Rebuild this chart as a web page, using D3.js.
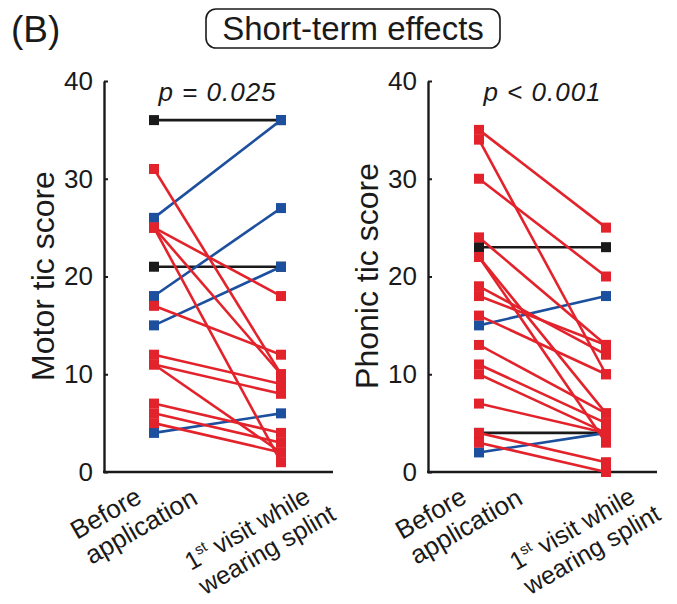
<!DOCTYPE html>
<html>
<head>
<meta charset="utf-8">
<script src="https://cdn.jsdelivr.net/npm/d3@7"></script>
<style>
    body { margin: 0; background: #fff; }
    svg text { font-family: "Liberation Sans", Arial, sans-serif; fill: #1a1a1a; }
</style>
</head>
<body>
<div id="chart"></div>
<script>
// Data
// ============================================================================
const conditions = ["Before application", "1st visit while wearing splint"];
const yTicks = [0, 10, 20, 30, 40];

const motorBefore = [36, 21, 26, 18, 15, 4, 31, 25, 25, 25, 17, 12, 11, 11, 7, 6, 5];
const motorAfter  = [36, 21, 36, 27, 21, 6, 10, 18, 10, 1, 12, 9, 8, 2, 4, 3, 2];
const motorP = "p = 0.025";

const phonicBefore = [23, 4, 15, 2, 35, 34, 30, 24, 22, 22, 19, 18, 16, 13, 11, 10, 7, 4, 3];
const phonicAfter  = [23, 4, 18, 4, 25, 10, 20, 13, 6, 3, 12, 13, 10, 6, 5, 4, 4, 1, 0];
const phonicP = "p < 0.001";

// Define variables
// ============================================================================
const width = 677, height = 604,
    colors = {down: "#e3232c", up: "#1d4f9f", same: "#1a1a1a"},
    panels = [
        {before: motorBefore, after: motorAfter, p: motorP, label: "Motor tic score",
         axisX: 104, axisEnd: 333, pts: [154, 281]},
        {before: phonicBefore, after: phonicAfter, p: phonicP, label: "Phonic tic score",
         axisX: 428, axisEnd: 657, pts: [479, 606]}
    ];

const svg = d3.select("#chart")
    .append("svg")
        .attr("width", width)
        .attr("height", height);

const yScale = d3.scaleLinear()
    .domain([0, 40])
    .range([472, 81]);

// Header
svg.append("text")
    .attr("x", 11)
    .attr("y", 42)
    .style("font-size", "37px")
    .text("(B)");

svg.append("rect")
    .attr("x", 206)
    .attr("y", 9)
    .attr("width", 294)
    .attr("height", 39)
    .attr("rx", 10)
    .attr("fill", "none")
    .attr("stroke", "#1a1a1a")
    .attr("stroke-width", 1.6);

svg.append("text")
    .attr("x", 353)
    .attr("y", 40)
    .attr("text-anchor", "middle")
    .style("font-size", "33px")
    .text("Short-term effects");

// Panels
// ============================================================================
panels.forEach(panel => {
    const g = svg.append("g");

    const xScale = d3.scalePoint()
        .domain(conditions)
        .range(panel.pts);

    // y axis
    const yAxis = g.append("g")
        .attr("transform", "translate(" + panel.axisX + ",0)")
        .call(d3.axisLeft(yScale)
            .tickValues(yTicks)
            .tickSizeInner(-4)
            .tickSizeOuter(0)
            .tickPadding(11));
    yAxis.select(".domain").attr("stroke", "#1a1a1a").attr("stroke-width", 2.4);
    yAxis.selectAll(".tick line").attr("stroke", "#1a1a1a").attr("stroke-width", 2);
    yAxis.selectAll(".tick text")
        .style("font-size", "26px")
        .style("font-family", "'Liberation Sans', Arial, sans-serif")
        .attr("fill", "#1a1a1a");

    // x axis line
    g.append("line")
        .attr("x1", panel.axisX - 1)
        .attr("x2", panel.axisEnd)
        .attr("y1", yScale(0))
        .attr("y2", yScale(0))
        .attr("stroke", "#1a1a1a")
        .attr("stroke-width", 2.4);

    // y label
    g.append("text")
        .attr("transform", "translate(" + (panel.axisX - 50) + "," + 276 + ") rotate(-90)")
        .attr("text-anchor", "middle")
        .style("font-size", "32px")
        .text(panel.label);

    // p value
    g.append("text")
        .attr("x", (panel.pts[0] + panel.pts[1]) / 2)
        .attr("y", 101)
        .attr("text-anchor", "middle")
        .style("font-size", "26px")
        .style("font-style", "italic")
        .style("letter-spacing", "1px")
        .text(panel.p);

    // pairs
    const pairs = panel.before.map((b, i) => ({b: b, a: panel.after[i]}));
    const kind = d => d.a < d.b ? "down" : (d.a > d.b ? "up" : "same");
    const col = d => colors[kind(d)];
    // draw black first, then blue, then red on top
    const order = {same: 0, up: 1, down: 2};
    pairs.sort((p, q) => order[kind(p)] - order[kind(q)]);

    g.selectAll(".pair")
        .data(pairs)
        .join("line")
            .attr("x1", xScale(conditions[0]))
            .attr("x2", xScale(conditions[1]))
            .attr("y1", d => yScale(d.b))
            .attr("y2", d => yScale(d.a))
            .attr("stroke", col)
            .attr("stroke-width", 2.6);

    const s = 10;
    g.selectAll(".ptB")
        .data(pairs)
        .join("rect")
            .attr("x", xScale(conditions[0]) - s / 2)
            .attr("y", d => yScale(d.b) - s / 2)
            .attr("width", s)
            .attr("height", s)
            .attr("fill", col);

    g.selectAll(".ptA")
        .data(pairs)
        .join("rect")
            .attr("x", xScale(conditions[1]) - s / 2)
            .attr("y", d => yScale(d.a) - s / 2)
            .attr("width", s)
            .attr("height", s)
            .attr("fill", col);

    // x category labels, rotated
    const lab1 = g.append("text")
        .attr("transform", "translate(" + (panel.pts[0] - 77) + ",540) rotate(-30)")
        .style("font-size", "26px");
    lab1.append("tspan").attr("x", 0).attr("dy", 0).text("Before");
    lab1.append("tspan").attr("x", 0).attr("dy", 29).text("application");

    const lab2 = g.append("text")
        .attr("transform", "translate(" + (panel.pts[1] - 90) + ",571) rotate(-30)")
        .style("font-size", "25px");
    const t1 = lab2.append("tspan").attr("x", 0).attr("dy", 0);
    t1.append("tspan").text("1");
    t1.append("tspan").attr("dy", -10).style("font-size", "15px").text("st");
    t1.append("tspan").attr("dy", 10).text(" visit while");
    lab2.append("tspan").attr("x", 0).attr("dy", 28).text("wearing splint");
});
</script>
</body>
</html>
